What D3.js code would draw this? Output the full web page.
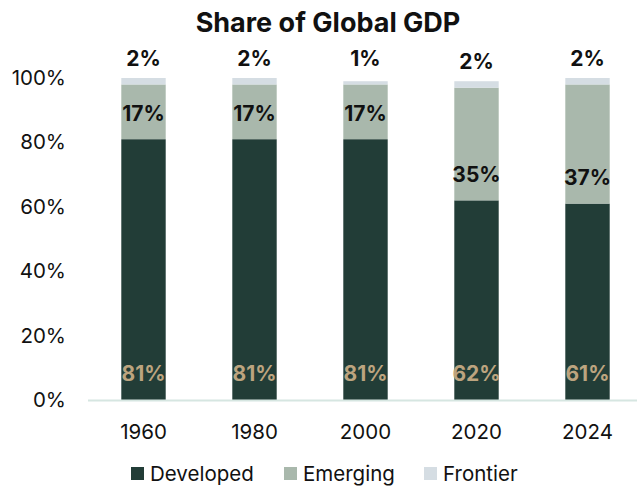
<!DOCTYPE html>
<html>
<head>
<meta charset="utf-8">
<script src="https://cdn.jsdelivr.net/npm/d3@7"></script>
<style>
  html, body { margin: 0; padding: 0; background: #fff; }
  svg { display: block; font-family: Inter, "Open Sans", sans-serif; }
</style>
</head>
<body>
<svg id="chart" width="637" height="486"></svg>
<script>
// Share of global GDP by market group (percent)
const years = ["1960", "1980", "2000", "2020", "2024"];
const developed = [81, 81, 81, 62, 61];
const emerging = [17, 17, 17, 35, 37];
const frontier = [2, 2, 1, 2, 2];
const yTicks = [0, 20, 40, 60, 80, 100];

const seriesNames = ["Developed", "Emerging", "Frontier"];
const seriesColors = ["#223d37", "#a9b8ac", "#d5dde3"];
const labelColors = ["#bca47f", "#111111", "#111111"];

const rows = years.map((y, i) => ({
  year: y, Developed: developed[i], Emerging: emerging[i], Frontier: frontier[i]
}));

const svg = d3.select("#chart");
const margin = { left: 88, right: -6, top: 78, bottom: 86 };
const W = 637, H = 486;

const x = d3.scaleBand().domain(years)
  .range([margin.left, W - margin.right]).paddingInner(0.6).paddingOuter(0.3);
const y = d3.scaleLinear().domain([0, 100]).range([H - margin.bottom, margin.top]);

// Title
svg.append("text")
  .attr("x", 328).attr("y", 32)
  .attr("text-anchor", "middle")
  .attr("font-size", 27).attr("font-weight", 700).attr("fill", "#111")
  .text("Share of Global GDP");

// Y axis labels
const yAxis = d3.axisLeft(y).tickValues(yTicks).tickSize(0).tickPadding(0)
  .tickFormat(d => d + "%");
const gy = svg.append("g").attr("transform", "translate(66,0)").call(yAxis);
gy.select(".domain").remove();
gy.selectAll("text").attr("font-size", 20.5).attr("fill", "#111")
  .attr("font-family", "Inter, sans-serif");

// Stacked bars
const stack = d3.stack().keys(seriesNames);
const layers = stack(rows);

layers.forEach((layer, si) => {
  const g = svg.append("g");
  g.selectAll("rect").data(layer).join("rect")
    .attr("x", d => x(d.data.year))
    .attr("width", x.bandwidth())
    .attr("y", d => y(d[1]))
    .attr("height", d => y(d[0]) - y(d[1]))
    .attr("fill", seriesColors[si]);
});

// Labels placed just inside the base of each segment
layers.forEach((layer, si) => {
  svg.append("g").selectAll("text").data(layer).join("text")
    .attr("x", d => x(d.data.year) + x.bandwidth() / 2)
    .attr("y", d => y(d[0]) - 26)
    .attr("dy", "0.35em")
    .attr("text-anchor", "middle")
    .attr("font-size", 21).attr("font-weight", 700)
    .attr("fill", labelColors[si])
    .text(d => (d[1] - d[0]) + "%");
});

// X axis
const xAxis = d3.axisBottom(x).tickSize(0).tickPadding(0);
const gx = svg.append("g").attr("transform", `translate(0,${y(0)})`).call(xAxis);
gx.select(".domain").attr("stroke", "#d6e6e1").attr("stroke-width", 2)
  .attr("d", `M${margin.left},0.5H${W}`);
gx.selectAll("text").attr("font-size", 20.5).attr("fill", "#111")
  .attr("font-family", "Inter, sans-serif")
  .attr("y", 32).attr("dy", "0.35em");

// Legend
const legendX = [131, 284, 424];
const lg = svg.append("g");
seriesNames.forEach((name, i) => {
  lg.append("rect").attr("x", legendX[i]).attr("y", 467)
    .attr("width", 13).attr("height", 13).attr("fill", seriesColors[i]);
  lg.append("text").attr("x", legendX[i] + 19).attr("y", 474)
    .attr("dy", "0.35em").attr("font-size", 20.5).attr("fill", "#111")
    .text(name);
});
</script>
</body>
</html>
